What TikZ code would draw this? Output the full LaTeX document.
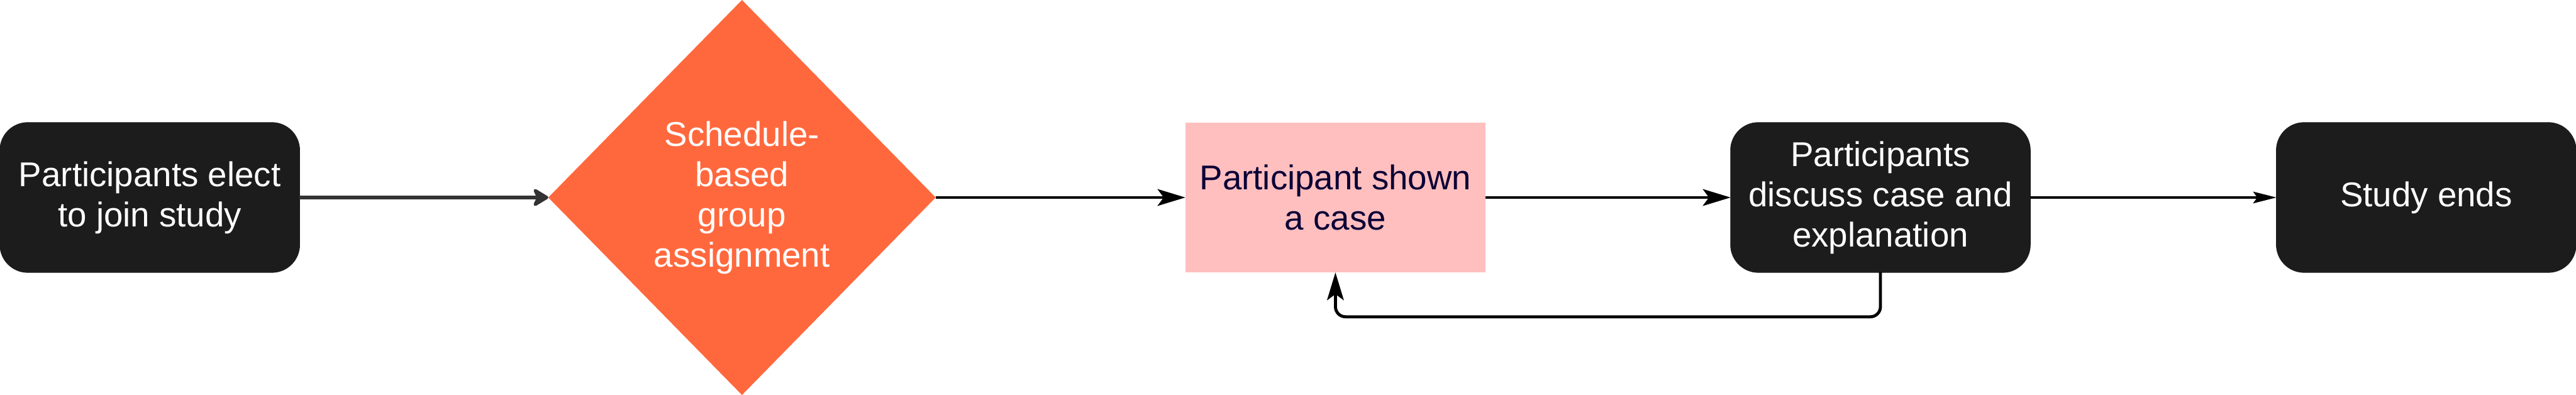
\documentclass[tikz,border=0pt]{standalone}
\usepackage{fontspec}
\setmainfont{Liberation Sans}
\usepackage{xcolor}
\usepackage{tikz}
\usetikzlibrary{shapes.geometric, arrows.meta, positioning}

\definecolor{boxdark}{HTML}{1C1C1C}
\definecolor{assignorange}{HTML}{FF683D}
\definecolor{casepink}{HTML}{FFBFBF}
\definecolor{casetext}{HTML}{0A0036}
\definecolor{firstline}{HTML}{333333}

\begin{document}
\begin{tikzpicture}[
    stage/.style={
        rectangle, rounded corners=0.55cm,
        fill=boxdark, draw=boxdark,
        minimum width=5.94cm, minimum height=2.97cm,
        inner sep=0pt, outer sep=0pt,
        text=white, align=center,
        font=\fontsize{19.4}{22.7}\selectfont
    },
    decision/.style={
        diamond, fill=assignorange,
        minimum width=7.68cm, minimum height=7.83cm,
        inner sep=0pt, outer sep=0pt,
        text=white, align=center,
        font=\fontsize{19.4}{22.7}\selectfont
    },
    showcase/.style={
        rectangle, fill=casepink,
        minimum width=5.95cm, minimum height=2.97cm,
        inner sep=0pt, outer sep=0pt,
        text=casetext, align=center,
        font=\fontsize{19.4}{22.7}\selectfont
    },
    arrow/.style={-{Stealth[length=0.55cm, width=0.33cm, inset=0.12cm]}, line width=0.06cm},
    firstarrow/.style={firstline, -{Stealth[length=0.36cm, width=0.43cm, inset=0.1cm, round]}, line width=0.07cm},
    lastarrow/.style={-{Stealth[length=0.46cm, width=0.23cm, inset=0.08cm]}, line width=0.04cm},
]

\useasboundingbox (0,0) rectangle (51.07,7.83);

% Fasi
\node[stage]    (elect)    at (2.97,3.915)   {Participants elect\\to join study};
\node[decision] (assign)   at (14.71,3.915)  {Schedule-\\based\\group\\assignment};
\node[showcase] (shown)    at (26.475,3.915) {Participant shown\\a case};
\node[stage]    (discuss)  at (37.28,3.915)  {Participants\\discuss case and\\explanation};
\node[stage]    (ends)     at (48.10,3.915)  {Study ends};

% Frecce
\draw[firstarrow] (elect.east) -- (assign.west);
\draw[arrow] (assign.east) -- (shown.west);
\draw[arrow] (shown.east) -- (discuss.west);
\draw[lastarrow] (discuss.east) -- (ends.west);

% Ritorno
\draw[arrow, rounded corners=0.2cm] (discuss.south) -- ++(0,-0.88) -| (shown.south);

\end{tikzpicture}
\end{document}
